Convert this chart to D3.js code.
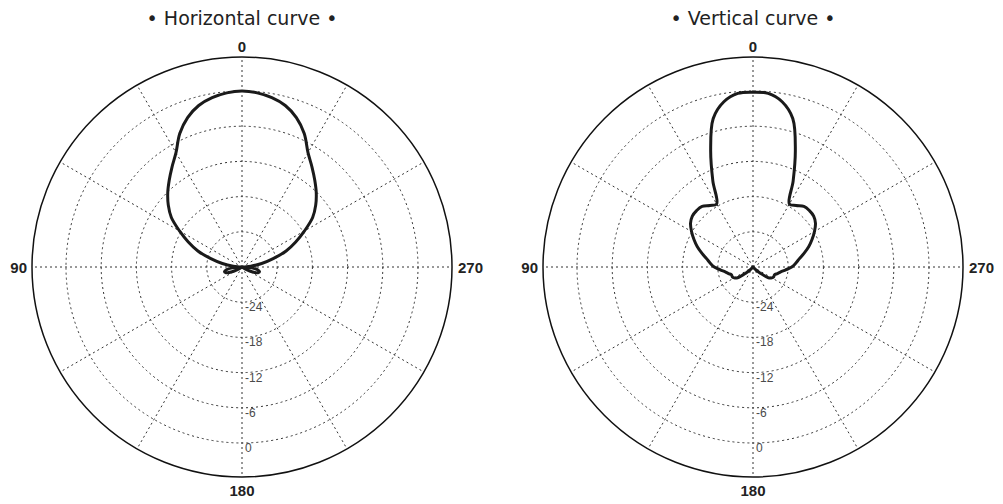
<!DOCTYPE html>
<html>
<head>
<meta charset="utf-8">
<script src="https://cdn.jsdelivr.net/npm/d3@7"></script>
<style>
  body { margin: 0; background: #fff; }
  .title { font-family: "DejaVu Sans", sans-serif; font-size: 19px; fill: #222; }
  .dirLabel { font-family: "Liberation Sans", Arial, sans-serif; font-size: 15px; font-weight: bold; fill: #222; }
  .ringLabel { font-family: "Liberation Sans", Arial, sans-serif; font-size: 12px; fill: #4a4a4a; }
</style>
</head>
<body>
<div id="chart"></div>
<script>
// angles (deg, counter-clockwise from top as labelled on the chart)
var angles = d3.range(0, 360, 5);

// dB readings, one per angle
var horizontalDb = [
  0.0, -0.2, -0.7, -1.5, -2.9, -4.9, -7.5, -9.2, -10.7, -12.1, -13.6, -15.3,
  -17.7, -19.9, -22.0, -24.5, -26.6, -28.5, -29.7, -28.3, -27.3, -26.9, -27.1, -28.0,
  -29.1, -30, -30, -30, -30, -30, -30, -30, -30, -30, -30, -30,
  -30, -30, -30, -30, -30, -30, -30, -30, -30, -30, -30, -30,
  -29.1, -28.0, -27.1, -26.9, -27.3, -28.3, -29.7, -28.5, -26.6, -24.5, -22.0, -19.9,
  -17.7, -15.3, -13.6, -12.1, -10.7, -9.2, -7.5, -4.9, -2.9, -1.5, -0.7, -0.2
];

var verticalDb = [
  -0.2, -0.3, -1.4, -3.8, -8.9, -13.8, -17.6, -17.2, -16.5, -16.4, -16.5, -17.0,
  -17.9, -18.9, -19.9, -21.0, -22.0, -22.7, -23.4, -24.4, -25.2, -25.7, -26.1, -26.1,
  -26.3, -26.8, -28.3, -29.5, -30, -30, -30, -30, -30, -30, -30, -30,
  -30, -30, -30, -30, -30, -30, -30, -30, -30, -29.5, -28.3, -26.8,
  -26.3, -26.1, -26.1, -25.7, -25.2, -24.4, -23.4, -22.7, -22.0, -21.0, -19.9, -18.9,
  -17.9, -17.0, -16.5, -16.4, -16.5, -17.2, -17.6, -13.8, -8.9, -3.8, -1.4, -0.3
];

var ringTicks = [-24, -18, -12, -6, 0];
var spokeAngles = [0, 30, 60, 90, 120, 150, 180, 210, 240, 270, 300, 330];
var dirLabels = ['0', '90', '180', '270'];
var titles = ['\u2022 Horizontal curve \u2022', '\u2022 Vertical curve \u2022'];

var width = 1003;
var height = 504;
var outerR = 210;

var svg = d3.select('#chart')
    .append('svg')
    .attr('width', width)
    .attr('height', height);

var r = d3.scaleLinear().domain([-30, 0]).range([0, 176]);

var charts = [
    { cx: 242, cy: 267, title: titles[0], values: horizontalDb },
    { cx: 753, cy: 267, title: titles[1], values: verticalDb }
];

charts.forEach(function(c) {
    var g = svg.append('g').attr('transform', `translate(${c.cx},${c.cy})`);

    // dotted rings
    g.selectAll('.ring').data(ringTicks).enter()
        .append('circle')
        .attr('r', d => r(d))
        .attr('fill', 'none')
        .attr('stroke', '#333')
        .attr('stroke-width', 1)
        .attr('stroke-dasharray', '2,3');

    // dotted spokes
    g.selectAll('.spoke').data(spokeAngles).enter()
        .append('line')
        .attr('x1', 0).attr('y1', 0)
        .attr('x2', d => -outerR * Math.sin(d * Math.PI / 180))
        .attr('y2', d => -outerR * Math.cos(d * Math.PI / 180))
        .attr('stroke', '#333')
        .attr('stroke-width', 1)
        .attr('stroke-dasharray', '2,3');

    // outer circle
    g.append('circle')
        .attr('r', outerR)
        .attr('fill', 'none')
        .attr('stroke', '#111')
        .attr('stroke-width', 1.5);

    // ring labels
    g.selectAll('.ringLabel').data(ringTicks).enter()
        .append('text')
        .attr('class', 'ringLabel')
        .attr('x', 3)
        .attr('y', d => r(d) + 9)
        .text(d => d);

    // direction labels
    g.append('text').attr('class', 'dirLabel').attr('text-anchor', 'middle')
        .attr('x', 0).attr('y', -outerR - 5).text(dirLabels[0]);
    g.append('text').attr('class', 'dirLabel').attr('text-anchor', 'end')
        .attr('dominant-baseline', 'central')
        .attr('x', -outerR - 5).attr('y', 0).text(dirLabels[1]);
    g.append('text').attr('class', 'dirLabel').attr('text-anchor', 'middle')
        .attr('x', 0).attr('y', outerR + 19).text(dirLabels[2]);
    g.append('text').attr('class', 'dirLabel').attr('text-anchor', 'start')
        .attr('dominant-baseline', 'central')
        .attr('x', outerR + 6).attr('y', 0).text(dirLabels[3]);

    // title
    svg.append('text')
        .attr('class', 'title')
        .attr('text-anchor', 'middle')
        .attr('x', c.cx)
        .attr('y', 25)
        .text(c.title);

    // pattern curve
    var line = d3.lineRadial()
        .angle((d, i) => -angles[i] * Math.PI / 180)
        .radius(d => r(d))
        .curve(d3.curveCatmullRomClosed.alpha(0.5));

    g.append('path')
        .datum(c.values)
        .attr('d', line)
        .attr('fill', 'none')
        .attr('stroke', '#1a1a1a')
        .attr('stroke-width', 3)
        .attr('stroke-linejoin', 'round');
});
</script>
</body>
</html>
